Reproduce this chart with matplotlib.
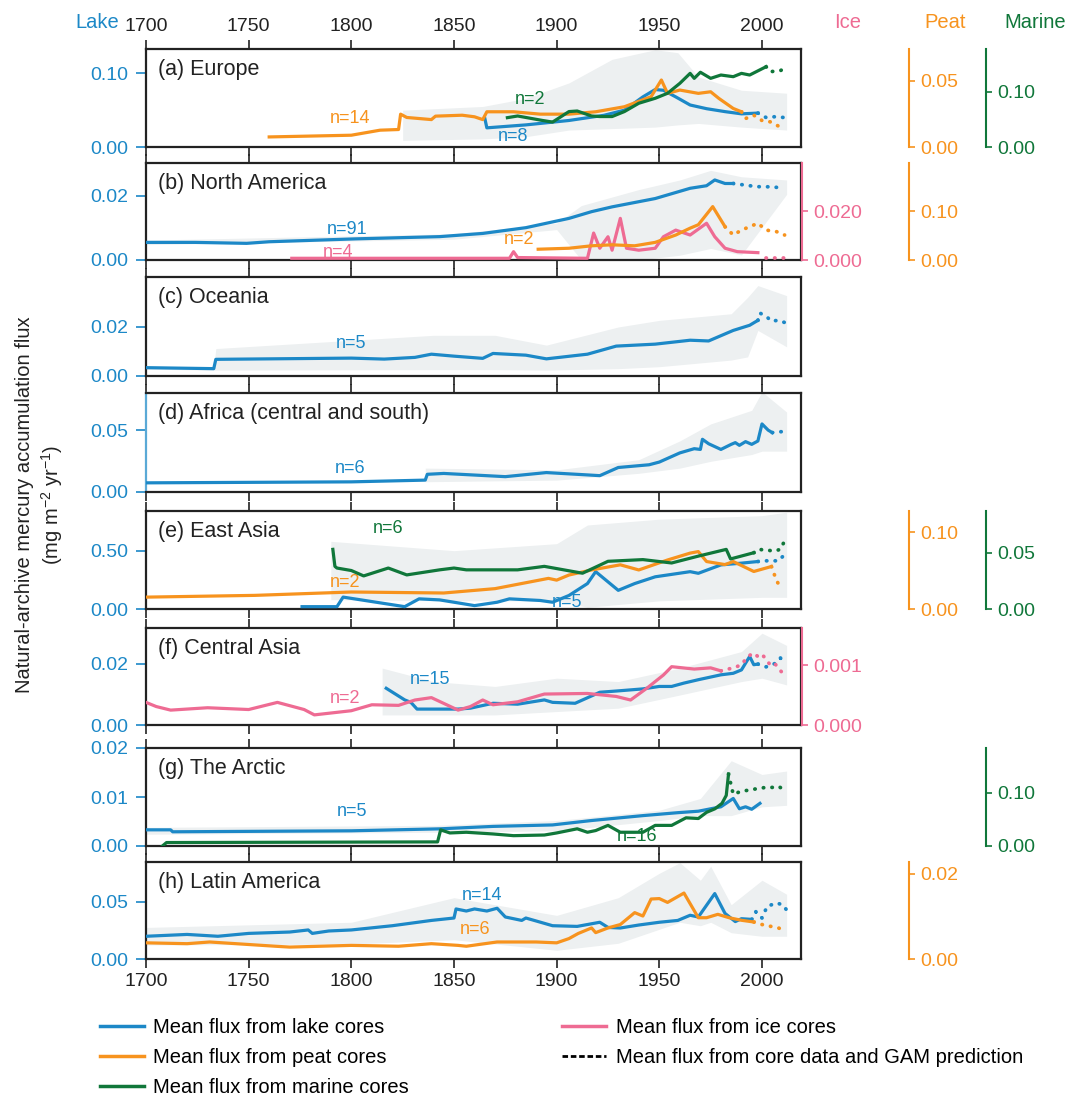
import matplotlib.pyplot as plt
from matplotlib.lines import Line2D

plt.rcParams['font.family'] = ['Liberation Sans', 'DejaVu Sans']
plt.rcParams['mathtext.default'] = 'regular'

LAKE = '#1c88c7'
PEAT = '#f7931e'
MARINE = '#10773a'
ICE = '#ee6b93'
BAND = '#edf0f1'

# ---------------- (a) Europe ----------------
a_lake_yr = [1865, 1866, 1885, 1906, 1923, 1933, 1942, 1948, 1952, 1958, 1965, 1973, 1982, 1990, 1998]
a_lake = [0.039, 0.026, 0.030, 0.036, 0.043, 0.050, 0.068, 0.078, 0.077, 0.068, 0.057, 0.052, 0.048, 0.045, 0.046]
a_lake_gam_yr = [1998, 2002, 2006, 2011]
a_lake_gam = [0.046, 0.040, 0.041, 0.040]
a_peat_yr = [1760, 1800, 1814, 1823, 1824, 1827, 1839, 1841, 1854, 1860, 1864, 1866, 1879, 1892, 1906,
             1919, 1933, 1946, 1951, 1954, 1960, 1969, 1975, 1979, 1986, 1990]
a_peat = [0.0076, 0.0089, 0.0127, 0.0132, 0.0248, 0.0223, 0.0207, 0.0233, 0.0240, 0.0228, 0.0207, 0.0266,
          0.0266, 0.0248, 0.0248, 0.0266, 0.0304, 0.0380, 0.0506, 0.0405, 0.0430, 0.0405, 0.0417, 0.0367,
          0.0291, 0.0266]
a_peat_gam_yr = [1990, 1992, 1996, 2000, 2004, 2009]
a_peat_gam = [0.0266, 0.0215, 0.024, 0.020, 0.019, 0.015]
a_marine_yr = [1876, 1881, 1893, 1898, 1906, 1910, 1917, 1921, 1927, 1933, 1940, 1948, 1954, 1960, 1965,
               1967, 1970, 1975, 1980, 1986, 1990, 1994, 2002]
a_marine = [0.053, 0.056, 0.048, 0.045, 0.064, 0.065, 0.056, 0.055, 0.055, 0.064, 0.079, 0.088, 0.097,
            0.115, 0.133, 0.124, 0.135, 0.124, 0.130, 0.127, 0.133, 0.130, 0.145]
a_marine_gam_yr = [2002, 2004, 2009, 2012]
a_marine_gam = [0.145, 0.136, 0.138, 0.144]
a_band_yr = [1825, 1864, 1885, 1906, 1927, 1948, 1959, 1969, 1990, 2012]
a_band_lo = [0.009, 0.011, 0.014, 0.023, 0.025, 0.027, 0.030, 0.032, 0.027, 0.023]
a_band_hi = [0.050, 0.055, 0.066, 0.087, 0.119, 0.132, 0.128, 0.095, 0.077, 0.073]

# ---------------- (b) North America ----------------
b_lake_yr = [1700, 1724, 1749, 1760, 1802, 1843, 1864, 1885, 1906, 1917, 1927, 1948, 1965, 1973, 1977, 1982, 1986]
b_lake = [0.0055, 0.0055, 0.0052, 0.0057, 0.0066, 0.0073, 0.0083, 0.0101, 0.0130, 0.0151, 0.0166, 0.0192,
          0.0224, 0.0232, 0.0250, 0.0239, 0.0239]
b_lake_gam_yr = [1986, 1994, 1998, 2002, 2007, 2011]
b_lake_gam = [0.0239, 0.0232, 0.0229, 0.0229, 0.0227, 0.0224]
b_peat_yr = [1891, 1906, 1917, 1927, 1938, 1948, 1958, 1965, 1969, 1976, 1982]
b_peat = [0.022, 0.024, 0.029, 0.031, 0.029, 0.036, 0.051, 0.065, 0.072, 0.109, 0.068]
b_peat_gam_yr = [1982, 1986, 1990, 1994, 1998, 2002, 2007, 2011]
b_peat_gam = [0.068, 0.051, 0.061, 0.068, 0.075, 0.061, 0.058, 0.051]
b_ice_yr = [1771, 1877, 1879, 1881, 1915, 1918, 1921, 1925, 1927, 1931, 1934, 1940, 1948, 1952, 1958,
            1965, 1973, 1977, 1982, 1988, 1998]
b_ice = [0.0007, 0.0007, 0.0034, 0.0010, 0.0007, 0.0110, 0.0048, 0.0095, 0.0040, 0.0170, 0.0048, 0.0040,
         0.0048, 0.0095, 0.0122, 0.0102, 0.0150, 0.0095, 0.0048, 0.0034, 0.0030]
b_ice_gam_yr = [2002, 2006, 2011]
b_ice_gam = [0.0008, 0.0008, 0.0008]
b_band_yr = [1700, 1850, 1900, 1912, 1940, 1960, 1975, 1990, 2012]
b_band_lo = [0.0048, 0.0065, 0.0095, 0.0, 0.0, 0.0015, 0.0036, 0.0016, 0.0205]
b_band_hi = [0.0062, 0.0082, 0.0115, 0.017, 0.022, 0.025, 0.028, 0.026, 0.025]

# ---------------- (c) Oceania ----------------
c_lake_yr = [1700, 1733, 1734, 1800, 1816, 1831, 1839, 1850, 1864, 1869, 1885, 1895, 1915, 1929, 1948,
             1965, 1974, 1986, 1994, 1998]
c_lake = [0.0034, 0.0030, 0.0068, 0.0073, 0.0069, 0.0076, 0.0089, 0.0081, 0.0072, 0.0092, 0.0085, 0.0070,
          0.0089, 0.0122, 0.0130, 0.0146, 0.0143, 0.0186, 0.0207, 0.0227]
c_lake_gam_yr = [1998, 1999, 2002.5, 2004.6, 2007.7, 2012]
c_lake_gam = [0.0227, 0.0257, 0.0240, 0.0224, 0.0227, 0.0216]
c_band_yr = [1700, 1733, 1734, 1840, 1870, 1895, 1930, 1950, 1985, 1993, 1998, 2012]
c_band_lo = [0.0028, 0.0024, 0.0024, 0.0026, 0.0026, 0.0024, 0.0030, 0.0038, 0.0065, 0.0078, 0.0186, 0.0119]
c_band_hi = [0.0040, 0.0036, 0.0112, 0.0166, 0.0166, 0.0126, 0.0200, 0.0227, 0.0254, 0.0321, 0.0369, 0.0328]

# ---------------- (d) Africa ----------------
d_lake_yr = [1700, 1800, 1836, 1837, 1845, 1875, 1895, 1915, 1921, 1930, 1945, 1950, 1960, 1967, 1970,
             1971, 1974, 1980, 1985, 1987, 1989, 1992, 1995, 1998, 2000, 2003, 2005]
d_lake = [0.0074, 0.0082, 0.0096, 0.0143, 0.0150, 0.0124, 0.0157, 0.0138, 0.0132, 0.0198, 0.0220, 0.0242,
          0.0316, 0.0350, 0.0344, 0.0426, 0.0390, 0.0344, 0.0385, 0.0399, 0.0377, 0.0407, 0.0385, 0.0412,
          0.0550, 0.0500, 0.0480]
d_lake_gam_yr = [2005, 2008, 2011]
d_lake_gam = [0.048, 0.0485, 0.049]
d_band_yr = [1836, 1900, 1940, 1960, 1975, 1995, 2000, 2012]
d_band_lo = [0.0083, 0.0096, 0.0151, 0.0193, 0.0248, 0.0303, 0.033, 0.033]
d_band_hi = [0.0193, 0.0179, 0.0261, 0.0413, 0.055, 0.066, 0.081, 0.0646]

# ---------------- (e) East Asia ----------------
e_lake_yr = [1776, 1793, 1796, 1826, 1833, 1843, 1850, 1860, 1871, 1877, 1892, 1898, 1906, 1915, 1919,
             1930, 1938, 1948, 1965, 1969, 1980, 1990, 1998]
e_lake = [0.020, 0.020, 0.102, 0.020, 0.087, 0.078, 0.058, 0.029, 0.058, 0.087, 0.073, 0.058, 0.116, 0.218,
          0.320, 0.160, 0.218, 0.276, 0.320, 0.306, 0.378, 0.393, 0.407]
e_lake_gam_yr = [1998, 2002, 2008, 2011]
e_lake_gam = [0.407, 0.413, 0.413, 0.466]
e_peat_yr = [1700, 1753, 1800, 1845, 1870, 1896, 1900, 1906, 1917, 1931, 1940, 1954, 1965, 1969, 1973,
             1982, 1986, 1996, 2004.6]
e_peat = [0.0155, 0.0178, 0.0222, 0.0209, 0.0266, 0.0400, 0.0377, 0.0444, 0.0510, 0.0577, 0.0510, 0.0640,
          0.0730, 0.0750, 0.0620, 0.0580, 0.0620, 0.0490, 0.0555]
e_peat_gam_yr = [2004.6, 2006.7, 2008.8]
e_peat_gam = [0.0555, 0.040, 0.028]
e_marine_yr = [1791, 1792, 1793, 1800, 1806, 1818, 1827, 1843, 1850, 1856, 1881, 1894, 1912.6, 1925, 1942,
               1956, 1969, 1982.6, 1984.7, 1996]
e_marine = [0.053, 0.0379, 0.0364, 0.0342, 0.0294, 0.0364, 0.0303, 0.0348, 0.0364, 0.0348, 0.0348, 0.0379,
            0.0318, 0.0424, 0.0439, 0.0409, 0.0470, 0.0530, 0.0445, 0.0500]
e_marine_gam_yr = [1996, 1998, 2002, 2006, 2009, 2011]
e_marine_gam = [0.050, 0.053, 0.0524, 0.0515, 0.053, 0.0606]
e_band_yr = [1790, 1850, 1900, 1915, 1950, 2000, 2012]
e_band_lo = [0.08, 0.07, 0.07, 0.015, 0.07, 0.10, 0.10]
e_band_hi = [0.58, 0.50, 0.56, 0.72, 0.77, 0.80, 0.83]

# ---------------- (f) Central Asia ----------------
f_ice_yr = [1700, 1705, 1712, 1730, 1750, 1764, 1777, 1782, 1800, 1810, 1823, 1831, 1839, 1852, 1858,
            1864, 1869, 1881, 1894, 1915, 1929, 1936, 1944, 1952, 1956, 1967, 1975, 1980]
f_ice = [0.00038, 0.00031, 0.00025, 0.00029, 0.00026, 0.00038, 0.00026, 0.00017, 0.00024, 0.00034, 0.00033,
         0.00042, 0.00046, 0.00025, 0.00031, 0.00042, 0.00034, 0.00039, 0.00052, 0.00053, 0.00048, 0.00042,
         0.00062, 0.00084, 0.00098, 0.00094, 0.00096, 0.00091]
f_ice_gam_yr = [1980, 1986, 1990, 1993, 1996, 1998, 2000, 2004, 2006, 2008, 2010]
f_ice_gam = [0.00091, 0.00096, 0.00101, 0.00115, 0.00121, 0.00115, 0.00119, 0.00101, 0.00104, 0.00096, 0.00087]
f_lake_yr = [1817, 1826, 1829, 1832, 1852, 1858, 1869, 1881, 1894, 1898, 1909, 1921, 1929, 1942, 1950,
             1956, 1962, 1969, 1980, 1986, 1990, 1994, 1996, 1998]
f_lake = [0.0120, 0.0082, 0.0074, 0.0052, 0.0052, 0.0055, 0.0071, 0.0068, 0.0082, 0.0074, 0.0071, 0.0107,
          0.0111, 0.0118, 0.0126, 0.0126, 0.0137, 0.0148, 0.0164, 0.0169, 0.0180, 0.0224, 0.0197, 0.0199]
f_lake_gam_yr = [1998, 2002, 2006, 2009, 2011]
f_lake_gam = [0.0199, 0.0190, 0.0200, 0.0219, 0.0197]
f_band_yr = [1815, 1840, 1870, 1900, 1930, 1960, 1990, 2000, 2012]
f_band_lo = [0.0033, 0.0033, 0.0033, 0.0044, 0.0055, 0.0098, 0.0142, 0.0153, 0.0131]
f_band_hi = [0.0186, 0.0142, 0.0126, 0.0153, 0.0142, 0.0186, 0.0240, 0.0300, 0.0260]

# ---------------- (g) The Arctic ----------------
g_lake_yr = [1700, 1712, 1713, 1800, 1843, 1869, 1898, 1917, 1942, 1959, 1969, 1980, 1986, 1989, 1992, 1995, 1999]
g_lake = [0.0033, 0.0033, 0.0029, 0.0031, 0.0035, 0.0040, 0.0043, 0.0052, 0.0062, 0.0068, 0.0071, 0.0080,
          0.0097, 0.0076, 0.0080, 0.0075, 0.0087]
g_marine_yr = [1708, 1710, 1842, 1843.5, 1848, 1856, 1869, 1879, 1894, 1900, 1910, 1915, 1919, 1925, 1931,
               1942, 1948, 1956, 1963, 1969, 1973, 1977, 1980.5, 1982.6, 1983.7]
g_marine = [0.0, 0.0065, 0.0077, 0.0303, 0.0245, 0.0258, 0.0226, 0.0194, 0.0206, 0.0245, 0.0323, 0.0258,
            0.0290, 0.0387, 0.0258, 0.0258, 0.0387, 0.0387, 0.0529, 0.0516, 0.0632, 0.0697, 0.0800, 0.0950, 0.1350]
g_marine_gam_yr = [1983.7, 1986, 1990, 1994, 1998, 2002, 2006, 2008, 2011]
g_marine_gam = [0.135, 0.097, 0.103, 0.105, 0.108, 0.110, 0.110, 0.112, 0.105]
g_band_yr = [1700, 1840, 1900, 1950, 1970, 1985, 2000, 2012]
g_band_lo = [0.0024, 0.0028, 0.0031, 0.0052, 0.0062, 0.0062, 0.0080, 0.0083]
g_band_hi = [0.0038, 0.0042, 0.0052, 0.0073, 0.0097, 0.0174, 0.0146, 0.0153]

# ---------------- (h) Latin America ----------------
h_lake_yr = [1700, 1720, 1735, 1750, 1770, 1779, 1781, 1789, 1800, 1820, 1839, 1850, 1851, 1856, 1860,
             1866, 1871, 1875, 1883, 1885, 1898, 1910, 1921, 1925, 1931, 1940, 1950, 1959, 1965, 1969,
             1977, 1982, 1987, 1990, 1995]
h_lake = [0.0198, 0.0214, 0.0198, 0.0223, 0.0235, 0.0253, 0.0223, 0.0244, 0.0253, 0.0290, 0.0336, 0.0357,
          0.0436, 0.0418, 0.0436, 0.0418, 0.0442, 0.0366, 0.0336, 0.0357, 0.0290, 0.0284, 0.0320, 0.0275,
          0.0270, 0.0296, 0.0320, 0.0336, 0.0381, 0.0366, 0.0570, 0.0397, 0.0326, 0.0351, 0.0345]
h_lake_gam_yr = [1995, 1997, 2000, 2002.5, 2007, 2010, 2012]
h_lake_gam = [0.0345, 0.0412, 0.0357, 0.0458, 0.0488, 0.0473, 0.0427]
h_peat_yr = [1700, 1720, 1731, 1763, 1770, 1800, 1823, 1839, 1852, 1856, 1871, 1890, 1900, 1906, 1910.5,
             1917, 1919, 1925, 1931, 1938, 1942, 1946, 1950, 1954, 1962, 1969, 1973, 1978.5, 1984, 1990, 1996]
h_peat = [0.0038, 0.0036, 0.0040, 0.0030, 0.0028, 0.0032, 0.0030, 0.0036, 0.0032, 0.0030, 0.0040, 0.0040,
          0.0038, 0.0048, 0.0060, 0.0073, 0.0062, 0.0073, 0.0081, 0.0109, 0.0101, 0.0141, 0.0142, 0.0133,
          0.0155, 0.0097, 0.0097, 0.0105, 0.0097, 0.0091, 0.0087]
h_peat_gam_yr = [1996, 2000, 2004, 2008, 2012]
h_peat_gam = [0.0087, 0.0081, 0.0077, 0.0073, 0.0065]
h_band_yr = [1700, 1800, 1850, 1900, 1930, 1950, 1960, 1970, 1975, 1985, 2000, 2012]
h_band_lo = [0.0122, 0.0130, 0.0168, 0.0076, 0.0137, 0.0259, 0.0320, 0.0290, 0.0320, 0.0229, 0.0198, 0.0198]
h_band_hi = [0.0275, 0.0320, 0.0534, 0.0380, 0.0534, 0.0747, 0.0839, 0.0686, 0.0808, 0.0473, 0.0686, 0.0564]

year_ticks = [1700, 1750, 1800, 1850, 1900, 1950, 2000]

panels = [
    dict(title='(a) Europe', lake=(a_lake_yr, a_lake, a_lake_gam_yr, a_lake_gam),
         band=(a_band_yr, a_band_lo, a_band_hi), lake_top=0.133, lake_ticks=[0, 0.10],
         peat=(a_peat_yr, a_peat, a_peat_gam_yr, a_peat_gam), peat_top=0.074, peat_ticks=[0, 0.05],
         marine=(a_marine_yr, a_marine, a_marine_gam_yr, a_marine_gam), marine_top=0.177, marine_ticks=[0, 0.10],
         notes=[('n=14', PEAT, 0.311, 0.29), ('n=2', MARINE, 0.586, 0.48), ('n=8', LAKE, 0.560, 0.11)]),
    dict(title='(b) North America', lake=(b_lake_yr, b_lake, b_lake_gam_yr, b_lake_gam),
         band=(b_band_yr, b_band_lo, b_band_hi), lake_top=0.0303, lake_ticks=[0, 0.02],
         ice=(b_ice_yr, b_ice, b_ice_gam_yr, b_ice_gam), ice_top=0.0396, ice_ticks=[0, 0.02],
         peat=(b_peat_yr, b_peat, b_peat_gam_yr, b_peat_gam), peat_top=0.198, peat_ticks=[0, 0.10],
         notes=[('n=91', LAKE, 0.307, 0.31), ('n=4', ICE, 0.293, 0.08), ('n=2', PEAT, 0.569, 0.21)]),
    dict(title='(c) Oceania', lake=(c_lake_yr, c_lake, c_lake_gam_yr, c_lake_gam),
         band=(c_band_yr, c_band_lo, c_band_hi), lake_top=0.0404, lake_ticks=[0, 0.02],
         notes=[('n=5', LAKE, 0.313, 0.33)]),
    dict(title='(d) Africa (central and south)', lake=(d_lake_yr, d_lake, d_lake_gam_yr, d_lake_gam),
         band=(d_band_yr, d_band_lo, d_band_hi), lake_top=0.08, lake_ticks=[0, 0.05],
         notes=[('n=6', LAKE, 0.311, 0.24)]),
    dict(title='(e) East Asia', lake=(e_lake_yr, e_lake, e_lake_gam_yr, e_lake_gam),
         band=(e_band_yr, e_band_lo, e_band_hi), lake_top=0.84, lake_ticks=[0, 0.50],
         peat=(e_peat_yr, e_peat, e_peat_gam_yr, e_peat_gam), peat_top=0.128, peat_ticks=[0, 0.10],
         marine=(e_marine_yr, e_marine, e_marine_gam_yr, e_marine_gam), marine_top=0.0871, marine_ticks=[0, 0.05],
         notes=[('n=6', MARINE, 0.369, 0.82), ('n=2', PEAT, 0.304, 0.27), ('n=5', LAKE, 0.643, 0.07)]),
    dict(title='(f) Central Asia', lake=(f_lake_yr, f_lake, f_lake_gam_yr, f_lake_gam),
         band=(f_band_yr, f_band_lo, f_band_hi), lake_top=0.0317, lake_ticks=[0, 0.02],
         ice=(f_ice_yr, f_ice, f_ice_gam_yr, f_ice_gam), ice_top=0.00163, ice_ticks=[0, 0.001],
         notes=[('n=15', LAKE, 0.434, 0.47), ('n=2', ICE, 0.304, 0.27)]),
    dict(title='(g) The Arctic', lake=(g_lake_yr, g_lake, [], []),
         band=(g_band_yr, g_band_lo, g_band_hi), lake_top=0.02, lake_ticks=[0, 0.01, 0.02],
         marine=(g_marine_yr, g_marine, g_marine_gam_yr, g_marine_gam), marine_top=0.184, marine_ticks=[0, 0.10],
         notes=[('n=5', LAKE, 0.315, 0.35), ('n=16', MARINE, 0.75, 0.10)]),
    dict(title='(h) Latin America', lake=(h_lake_yr, h_lake, h_lake_gam_yr, h_lake_gam),
         band=(h_band_yr, h_band_lo, h_band_hi), lake_top=0.0845, lake_ticks=[0, 0.05],
         peat=(h_peat_yr, h_peat, h_peat_gam_yr, h_peat_gam), peat_top=0.0228, peat_ticks=[0, 0.02],
         notes=[('n=14', LAKE, 0.513, 0.65), ('n=6', PEAT, 0.502, 0.30)]),
]

# panel edges in pixels (top, bottom) of a 1070x1097 figure
tops = [49, 163, 277, 393, 511, 628, 748, 862]
bottoms = [147, 260, 376, 492, 609, 725, 846, 959]
W, H = 1070, 1097
X0, X1 = 146, 801


def draw(ax, series, color):
    yr, val, gyr, gval = series
    if yr:
        ax.plot(yr, val, color=color, lw=2.3, solid_joinstyle='round', zorder=3)
    if gyr:
        ax.plot(gyr, gval, color=color, lw=2.7, ls=(0, (0.1, 2.2)), dash_capstyle='round', zorder=3)


def side_axis(ax, pos, color, top, ticks, fmt):
    t = ax.twinx()
    for s in ['top', 'bottom', 'left']:
        t.spines[s].set_visible(False)
    t.spines['right'].set_position(('axes', pos))
    t.spines['right'].set_color(color)
    t.spines['right'].set_linewidth(1.5)
    t.set_ylim(0, top)
    t.set_yticks(ticks)
    t.set_yticklabels([fmt % v for v in ticks])
    t.tick_params(axis='y', colors=color, labelsize=14, length=4, width=1.2, pad=4)
    return t


fig = plt.figure(figsize=(W / 100, H / 100), dpi=100)

for i, p in enumerate(panels):
    ax = fig.add_axes([X0 / W, 1 - bottoms[i] / H, (X1 - X0) / W, (bottoms[i] - tops[i]) / H])
    ax.set_xlim(1700, 2019)
    ax.set_ylim(0, p['lake_top'])
    ax.set_xticks(year_ticks)
    ax.set_yticks(p['lake_ticks'])
    ax.set_yticklabels(['%.2f' % v for v in p['lake_ticks']])
    ax.tick_params(axis='x', top=True, bottom=True, labeltop=(i == 0), labelbottom=(i == 7),
                   length=6.5, width=1.2, labelsize=14, colors='#222222', direction='out')
    ax.tick_params(axis='y', colors=LAKE, labelsize=14, length=7.5, width=1.2, pad=5)
    for s in ax.spines.values():
        s.set_linewidth(1.6)
        s.set_color('#222222')
    if i == 3:
        ax.spines['left'].set_color('#5aa9d6')

    by, blo, bhi = p['band']
    ax.fill_between(by, blo, bhi, color=BAND, lw=0, zorder=1)
    draw(ax, p['lake'], LAKE)

    if 'ice' in p:
        t = side_axis(ax, 1.002, ICE, p['ice_top'], p['ice_ticks'], '%.3f')
        draw(t, p['ice'], ICE)
    if 'peat' in p:
        t = side_axis(ax, 1.165, PEAT, p['peat_top'], p['peat_ticks'], '%.2f')
        draw(t, p['peat'], PEAT)
    if 'marine' in p:
        t = side_axis(ax, 1.283, MARINE, p['marine_top'], p['marine_ticks'], '%.2f')
        draw(t, p['marine'], MARINE)

    ax.text(0.018, 0.79, p['title'], transform=ax.transAxes, fontsize=15.5,
            color='#222222', ha='left', va='center')
    for txt, col, tx, ty in p['notes']:
        ax.text(tx, ty, txt, transform=ax.transAxes, fontsize=13, color=col,
                ha='center', va='center', zorder=5)

# column headers above the top panel
hy = 1 - 23 / H
fig.text(119 / W, hy, 'Lake', color=LAKE, fontsize=14.5, ha='right', va='center')
fig.text(848 / W, hy, 'Ice', color=ICE, fontsize=14.5, ha='center', va='center')
fig.text(945 / W, hy, 'Peat', color=PEAT, fontsize=14.5, ha='center', va='center')
fig.text(1035 / W, hy, 'Marine', color=MARINE, fontsize=14.5, ha='center', va='center')

fig.text(40 / W, 1 - 505 / H, 'Natural-archive mercury accumulation flux\n(mg m$^{-2}$ yr$^{-1}$)',
         rotation=90, ha='center', va='center', fontsize=14.5, linespacing=1.3, color='#222222')

handles = [
    Line2D([], [], color=LAKE, lw=2.5, label='Mean flux from lake cores'),
    Line2D([], [], color=PEAT, lw=2.5, label='Mean flux from peat cores'),
    Line2D([], [], color=MARINE, lw=2.5, label='Mean flux from marine cores'),
    Line2D([], [], color=ICE, lw=2.5, label='Mean flux from ice cores'),
    Line2D([], [], color='black', lw=2, ls=(0, (2, 1)), label='Mean flux from core data and GAM prediction'),
]
fig.legend(handles=handles, loc='upper left', bbox_to_anchor=(100 / W, 1 - 1018 / H), ncol=2,
           frameon=False, fontsize=14.5, handlelength=2.2, handletextpad=0.45, columnspacing=7.6,
           labelspacing=0.55, borderpad=0, borderaxespad=0)

fig.savefig('out.png', dpi=100)
